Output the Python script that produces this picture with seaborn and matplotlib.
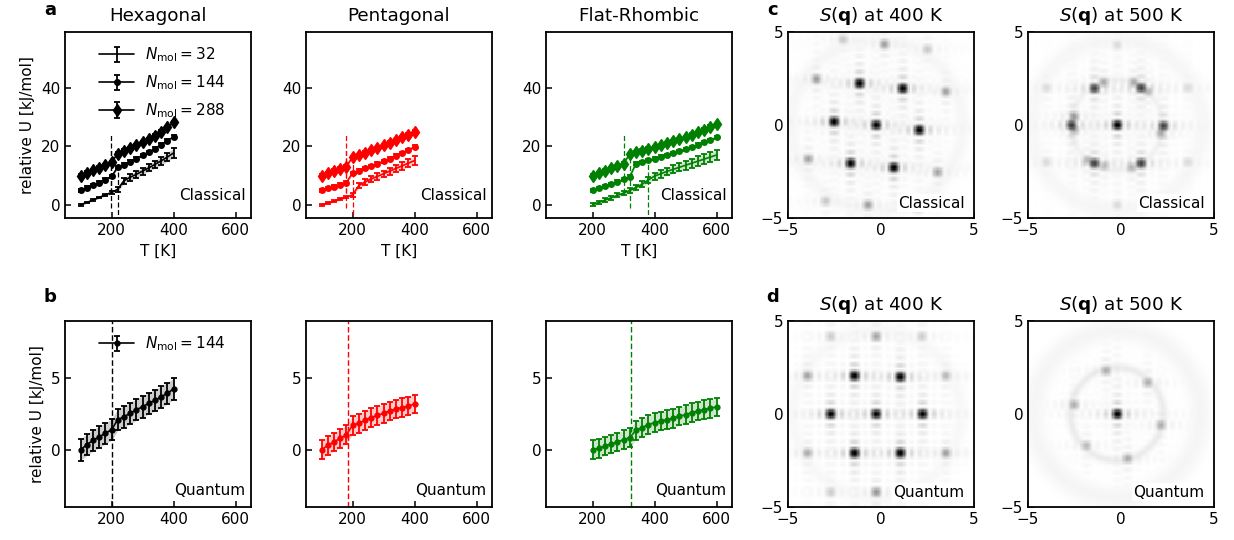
import numpy as np
import matplotlib
matplotlib.use("Agg")
import matplotlib.pyplot as plt
import seaborn as sns

sns.set_style("ticks")
plt.rcParams.update({
    "font.family": ["DejaVu Sans"],
    "font.size": 11,
    "text.color": "black",
    "axes.labelcolor": "black",
    "axes.edgecolor": "black",
    "xtick.color": "black",
    "ytick.color": "black",
    "axes.linewidth": 1.3,
    "xtick.direction": "in",
    "ytick.direction": "in",
    "xtick.major.width": 1.1,
    "ytick.major.width": 1.1,
    "xtick.major.size": 4,
    "ytick.major.size": 4,
})

# ---------------- data: relative internal energy ----------------
T_short = [100, 120, 140, 160, 180, 200, 220, 240, 260, 280, 300, 320, 340, 360, 380, 400]
T_long = [200, 220, 240, 260, 280, 300, 320, 340, 360, 380, 400,
          420, 440, 460, 480, 500, 520, 540, 560, 580, 600]

structures = ["Hexagonal", "Pentagonal", "Flat-Rhombic"]
colors = ["black", "red", "green"]
n_mol = [32, 144, 288]

# classical, offsets of 0 / 5 / 10 kJ/mol already included
hex_u32 = [0.0, 0.8, 1.6, 2.5, 3.4, 4.2, 5.3, 8.2, 9.4, 10.4, 11.5, 12.6, 13.8, 15.0, 16.3, 17.7]
hex_u144 = [5.0, 5.8, 6.7, 7.6, 8.6, 9.7, 12.8, 13.7, 14.7, 15.8, 16.9, 18.0, 19.2, 20.5, 21.8, 23.2]
hex_u288 = [10.0, 10.9, 11.8, 12.7, 13.6, 14.6, 17.5, 18.4, 19.3, 20.3, 21.3, 22.4, 23.6, 24.9, 26.4, 28.2]
hex_e32 = [0.3, 0.3, 0.3, 0.3, 0.4, 0.5, 0.8, 1.0, 1.1, 1.1, 1.2, 1.2, 1.3, 1.4, 1.5, 1.6]

pent_u32 = [0.0, 0.6, 1.2, 1.9, 2.6, 3.4, 6.5, 7.8, 8.8, 9.7, 10.6, 11.5, 12.4, 13.3, 14.2, 15.1]
pent_u144 = [5.0, 5.6, 6.2, 6.9, 7.6, 10.8, 11.6, 12.4, 13.2, 14.0, 14.9, 15.8, 16.7, 17.7, 18.7, 19.8]
pent_u288 = [10.0, 10.8, 11.6, 12.3, 13.0, 16.3, 17.0, 17.8, 18.6, 19.4, 20.3, 21.2, 22.1, 23.0, 23.9, 24.9]
pent_e32 = [0.3, 0.3, 0.3, 0.4, 0.4, 0.6, 0.9, 1.0, 1.0, 1.1, 1.1, 1.2, 1.2, 1.3, 1.3, 1.4]

fr_u32 = [0.0, 0.8, 1.6, 2.4, 3.2, 4.0, 4.9, 5.9, 7.0, 8.5, 9.8,
          10.6, 11.4, 12.1, 12.8, 13.5, 14.2, 14.9, 15.6, 16.3, 17.0]
fr_u144 = [5.0, 5.7, 6.4, 7.1, 7.9, 8.7, 9.6, 14.0, 14.6, 15.2, 15.8,
           16.4, 17.0, 17.6, 18.3, 19.0, 19.7, 20.5, 21.3, 22.1, 23.0]
fr_u288 = [10.0, 10.8, 11.6, 12.4, 13.2, 14.1, 17.3, 17.9, 18.5, 19.1, 19.7,
           20.3, 21.0, 21.7, 22.4, 23.1, 23.9, 24.7, 25.6, 26.6, 27.6]
fr_e32 = [0.5, 0.6, 0.6, 0.7, 0.7, 0.8, 0.8, 0.9, 1.0, 1.1, 1.2,
          1.3, 1.3, 1.4, 1.4, 1.5, 1.5, 1.6, 1.6, 1.7, 1.7]
err_large_n = 0.5

# transition temperatures for N = 32, 144, 288
hex_tc = [220, 199, 199]
pent_tc = [200, 180, 180]
fr_tc = [380, 320, 300]

# quantum, N = 144
q_hex = [0.0, 0.35, 0.65, 0.9, 1.15, 1.4, 2.1, 2.3, 2.55, 2.8, 3.0, 3.25, 3.45, 3.7, 3.95, 4.25]
q_pent = [0.0, 0.3, 0.55, 0.8, 1.05, 1.7, 1.85, 2.05, 2.25, 2.4, 2.55, 2.7, 2.85, 2.95, 3.05, 3.2]
q_fr = [0.0, 0.1, 0.25, 0.4, 0.55, 0.7, 0.85, 1.35, 1.55, 1.75, 1.9,
        2.0, 2.1, 2.2, 2.35, 2.45, 2.6, 2.7, 2.8, 2.9, 3.0]
q_err = [0.75, 0.65, 0.65]
q_tc = [200, 184, 325]

# ---------------- data: structure factor peaks (qx, qy, intensity) ----------------
peaks_c400 = [(-0.26, 0.0, 1.0), (-1.15, 2.24, 1.0), (1.17, 1.97, 1.0), (-2.52, 0.18, 1.0),
              (2.06, -0.27, 1.0), (-1.63, -2.06, 1.0), (0.69, -2.29, 1.0),
              (-3.47, 2.47, 0.2), (3.49, 1.79, 0.18), (-3.91, -1.83, 0.18), (3.04, -2.54, 0.18),
              (0.19, 4.34, 0.18), (-0.70, -4.30, 0.18), (-2.04, 4.60, 0.08), (2.50, 4.07, 0.08),
              (-2.97, -4.09, 0.08), (2.00, -4.50, 0.06)]
peaks_c500 = [(-0.2, 0.0, 1.0), (-1.42, 1.97, 0.6), (1.08, 2.0, 0.6), (-2.66, 0.0, 0.6),
              (2.29, -0.05, 0.6), (-1.42, -2.06, 0.6), (1.08, -2.06, 0.6),
              (-0.93, 2.3, 0.15), (0.69, 2.3, 0.15), (-2.52, 0.45, 0.2), (-2.52, -0.27, 0.15),
              (2.15, -0.45, 0.15), (1.45, 1.8, 0.12), (-1.8, -1.9, 0.12), (0.58, -2.3, 0.12),
              (-0.9, -2.2, 0.1), (-4.0, 2.0, 0.04), (3.6, 2.0, 0.04), (-4.0, -2.0, 0.04),
              (3.6, -2.0, 0.04), (-0.2, 4.3, 0.04), (-0.2, -4.3, 0.04)]
peaks_q400 = [(-0.26, 0.0, 1.0), (-1.42, 2.06, 1.0), (1.04, 2.0, 1.0), (-2.7, 0.0, 1.0),
              (2.24, 0.0, 1.0), (-1.42, -2.1, 1.0), (1.04, -2.1, 1.0),
              (-3.95, 2.06, 0.18), (3.49, 2.06, 0.12), (-3.95, -2.1, 0.15), (3.49, -2.1, 0.18),
              (-0.26, 4.17, 0.18), (-0.26, -4.2, 0.22), (-2.7, 4.17, 0.07), (2.2, 4.17, 0.07),
              (-2.7, -4.2, 0.07)]
peaks_q500 = [(-0.2, 0.0, 1.0), (-0.8, 2.33, 0.14), (1.43, 1.69, 0.14), (-2.52, 0.5, 0.14),
              (2.15, -0.6, 0.14), (-1.86, -1.7, 0.11), (0.36, -2.39, 0.14)]
# diffuse rings (radius, width, intensity)
rings_c400 = [(4.6, 0.2, 0.003)]
rings_c500 = [(2.45, 0.1, 0.008), (4.6, 0.25, 0.003)]
rings_q400 = [(4.5, 0.2, 0.002)]
rings_q500 = [(2.5, 0.12, 0.015), (4.5, 0.3, 0.004)]
ring_center = (-0.22, 0.0)


def sq_image(peaks, rings, n=150, w=0.42, gamma=0.45):
    q = -5 + (np.arange(n) + 0.5) * 10 / n
    qx, qy = np.meshgrid(q, q[::-1])
    img = np.zeros_like(qx)
    for x0, y0, a in peaks:
        img += a * np.sinc((qx - x0) / w) ** 2 * np.sinc((qy - y0) / w) ** 2
    r = np.hypot(qx - ring_center[0], qy - ring_center[1])
    for R, s, a in rings:
        img += a * np.exp(-(r - R) ** 2 / (2 * s ** 2))
    return np.clip(img, 0, 1) ** gamma


def draw_series(ax, T, u, err, color, marker, ms, label=None):
    u = np.asarray(u, dtype=float)
    err = np.broadcast_to(np.asarray(err, dtype=float), u.shape)
    ax.fill_between(T, u - err, u + err, color=color, alpha=0.2, lw=0)
    ax.errorbar(T, u, yerr=err, color=color, marker=marker, ms=ms, lw=1.2,
                elinewidth=1.3, capsize=2.5, capthick=1.3, label=label)


W, H = 1234, 540
fig = plt.figure(figsize=(W / 100, H / 100), dpi=100)
lefts = [65, 306, 546, 788, 1028]
size = 186


def make_ax(col, top):
    return fig.add_axes([lefts[col] / W, 1 - (top + size) / H, size / W, size / H])


classical = [
    (T_short, [hex_u32, hex_u144, hex_u288], hex_e32, hex_tc),
    (T_short, [pent_u32, pent_u144, pent_u288], pent_e32, pent_tc),
    (T_long, [fr_u32, fr_u144, fr_u288], fr_e32, fr_tc),
]
quantum = [(T_short, q_hex), (T_short, q_pent), (T_long, q_fr)]
markers = [("", 0), ("o", 4), ("d", 6.5)]

for col in range(3):
    c = colors[col]
    # top row: classical
    ax = make_ax(col, 32)
    T, series, e32, tcs = classical[col]
    for k, u in enumerate(series):
        err = e32 if k == 0 else err_large_n
        mk, ms = markers[k]
        draw_series(ax, T, u, err, c, mk, ms, label=rf"$N_\mathrm{{mol}} = {n_mol[k]}$")
        ax.vlines(tcs[k], u[0] - 6, u[0] + 14.5, colors=c, lw=0.9, linestyles=(0, (4, 2)))
    ax.set_xlim(50, 650)
    ax.set_ylim(-4.5, 59)
    ax.set_xticks([200, 400, 600])
    ax.set_yticks([0, 20, 40])
    ax.set_xlabel("T [K]")
    ax.set_title(structures[col], pad=8)
    ax.text(0.97, 0.08, "Classical", transform=ax.transAxes, ha="right", va="bottom")
    if col == 0:
        ax.set_ylabel("relative U [kJ/mol]")
        ax.legend(loc="upper left", bbox_to_anchor=(0.11, 1.0), frameon=False,
                  handlelength=2.3, handletextpad=0.7, labelspacing=0.6)

    # bottom row: quantum
    ax = make_ax(col, 321)
    T, u = quantum[col]
    draw_series(ax, T, u, q_err[col], c, "o", 3.5, label=r"$N_\mathrm{mol} = 144$")
    ax.axvline(q_tc[col], color=c, lw=1, ls=(0, (4, 2)))
    ax.set_xlim(50, 650)
    ax.set_ylim(-4, 9)
    ax.set_xticks([200, 400, 600])
    ax.set_yticks([0, 5])
    ax.text(0.97, 0.05, "Quantum", transform=ax.transAxes, ha="right", va="bottom")
    if col == 0:
        ax.set_ylabel("relative U [kJ/mol]")
        ax.legend(loc="upper left", bbox_to_anchor=(0.11, 1.0), frameon=False,
                  handlelength=2.3, handletextpad=0.7)

maps = [
    (3, 32, peaks_c400, rings_c400, r"$S(\mathbf{q})$ at 400 K", "Classical"),
    (4, 32, peaks_c500, rings_c500, r"$S(\mathbf{q})$ at 500 K", "Classical"),
    (3, 321, peaks_q400, rings_q400, r"$S(\mathbf{q})$ at 400 K", "Quantum"),
    (4, 321, peaks_q500, rings_q500, r"$S(\mathbf{q})$ at 500 K", "Quantum"),
]
for col, top, peaks, rings, title, tag in maps:
    ax = make_ax(col, top)
    img = sq_image(peaks, rings)
    n = img.shape[0]
    sns.heatmap(img, ax=ax, cmap="Greys", vmin=0, vmax=1, cbar=False,
                xticklabels=False, yticklabels=False, rasterized=True)
    ax.set_xticks([0, n / 2, n])
    ax.set_xticklabels(["\u22125", "0", "5"])
    ax.set_yticks([0, n / 2, n])
    ax.set_yticklabels(["5", "0", "\u22125"], rotation=0)
    ax.tick_params(direction="in", length=4, width=1.1)
    for s in ax.spines.values():
        s.set_visible(True)
        s.set_linewidth(1.3)
        s.set_color("black")
    ax.set_title(title, pad=8)
    ax.text(0.95, 0.04, tag, transform=ax.transAxes, ha="right", va="bottom",
            bbox=dict(facecolor="white", edgecolor="none", pad=1))

for label, x, y in [("a", 50, 10), ("b", 50, 297), ("c", 773, 10), ("d", 773, 297)]:
    fig.text(x / W, 1 - y / H, label, fontsize=13, fontweight="bold", ha="center", va="center")

fig.savefig("out.png", dpi=100)
